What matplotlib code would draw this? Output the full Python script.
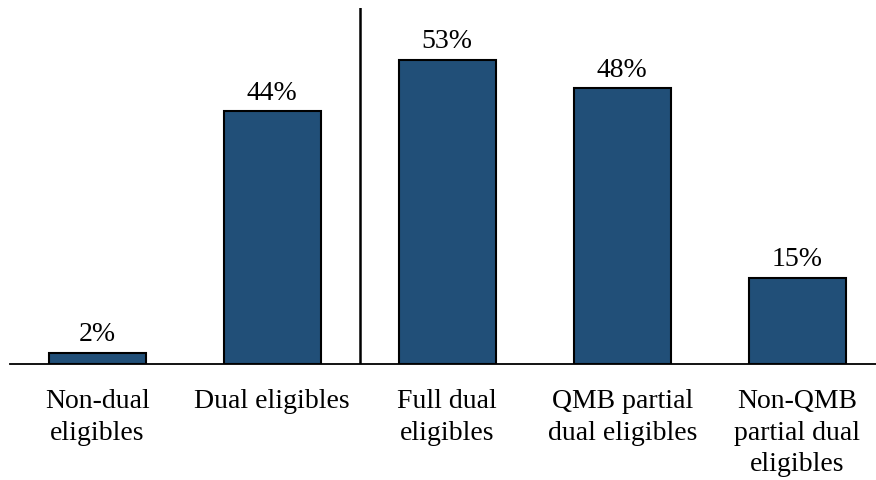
import matplotlib.pyplot as plt

categories = ['Non-dual\neligibles', 'Dual eligibles', 'Full dual\neligibles',
              'QMB partial\ndual eligibles', 'Non-QMB\npartial dual\neligibles']
shares = [2, 44, 53, 48, 15]

plt.rcParams['font.family'] = ['Liberation Serif', 'DejaVu Serif']

fig = plt.figure(figsize=(8.76, 4.8), dpi=100)
ax = fig.add_axes([0.011, 0.2417, 0.989, 0.7416])

x = list(range(len(shares)))
bars = ax.bar(x, shares, width=0.555, color='#214F78', edgecolor='black', linewidth=1.5)

for bar, val in zip(bars, shares):
    ax.annotate(f'{val}%', (bar.get_x() + bar.get_width() / 2, val),
                xytext=(0, 4), textcoords='offset points',
                ha='center', va='bottom', fontsize=20)

# divider between the overall groups and the dual subgroups
ax.axvline(1.5, color='black', linewidth=1.8)

ax.set_xlim(-0.5, 4.45)
ax.set_ylim(0, 62)
ax.set_xticks(x)
ax.set_xticklabels(categories, fontsize=20, linespacing=1.35)
ax.tick_params(axis='x', length=0, pad=18)
ax.set_yticks([])
for side in ['top', 'right', 'left']:
    ax.spines[side].set_visible(False)
ax.spines['bottom'].set_linewidth(1.3)

fig.savefig('out.png', dpi=100)
